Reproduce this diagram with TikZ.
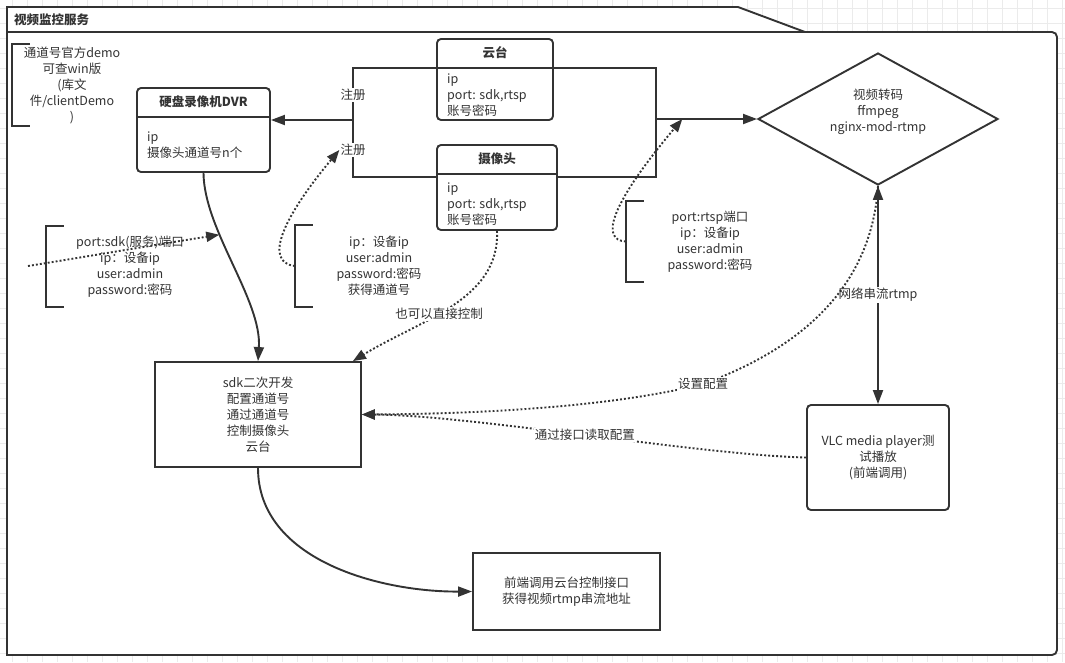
\documentclass[tikz,border=0pt]{standalone}
\usepackage{fontspec}
\setmainfont{Noto Sans CJK SC}
\usetikzlibrary{arrows.meta,shapes.geometric}
\definecolor{mmink}{HTML}{333333}
\definecolor{mmgrid}{HTML}{EBEBEB}
\newcommand{\dgfont}{\fontsize{12.5}{16}\selectfont}

\begin{document}
\begin{tikzpicture}[x=1pt,y=-1pt,
  ink/.style={draw=mmink,line width=1.9pt},
  card/.style={ink,rounded corners=4pt,fill=white,inner sep=0pt},
  flatbox/.style={ink,fill=white,align=center,font=\dgfont,text=mmink,inner sep=0pt},
  cardtitle/.style={font=\dgfont\bfseries,text=mmink,inner sep=0pt},
  cardbody/.style={align=left,font=\dgfont,text=mmink,inner sep=0pt,anchor=west},
  note/.style={align=center,font=\dgfont,text=mmink,inner sep=0pt},
  lab/.style={fill=white,font=\dgfont,text=mmink,inner sep=1pt},
  edge/.style={ink},
  arr/.style={ink,-{Triangle[length=14pt,width=10pt]}},
  dblarr/.style={ink,{Triangle[length=14pt,width=10pt]}-{Triangle[length=14pt,width=10pt]}},
  darr/.style={ink,dash pattern=on 1.9pt off 2.1pt,-{Triangle[length=13pt,width=10pt]}},
  gridline/.style={draw=mmgrid,line width=0.6pt}]
  \useasboundingbox (0,0) rectangle (1065,662);
  % canvas grid
  \foreach \gx in {12,27,...,1062} \draw[gridline] (\gx,0) -- (\gx,662);
  \foreach \gy in {8,23,...,660} \draw[gridline] (0,\gy) -- (1065,\gy);
  % container
  \draw[ink,fill=white] (7,655) -- (7,7) -- (738,7) -- (805,32)
    {[rounded corners=5pt] -- (1057,32) -- (1057,655)} -- cycle;
  \draw[edge] (7,32) -- (805,32);
  \node[cardtitle,anchor=west] (title) at (14,19.5) {视频监控服务};

  % notes with brackets
  \node[note,minimum width=120pt,minimum height=82pt] (demo) at (72,85)
    {通道号官方demo\\可查win版\\(库文\\件/clientDemo\\)};
  \node[note,minimum width=168pt,minimum height=81pt] (portnote) at (130,266.5)
    {port:sdk(服务)端口\\ip：设备ip\\user:admin\\password:密码};
  \node[note,minimum width=168pt,minimum height=82pt] (chnote) at (379,266)
    {ip：设备ip\\user:admin\\password:密码\\获得通道号};
  \node[note,minimum width=168pt,minimum height=81pt] (rtspnote) at (710,241.5)
    {port:rtsp端口\\ip：设备ip\\user:admin\\password:密码};
  \foreach \n in {demo,portnote,chnote,rtspnote}
    \draw[edge] ([xshift=18pt]\n.north west) -- (\n.north west) -- (\n.south west)
      -- ([xshift=18pt]\n.south west);

  % devices
  \node[card,minimum width=133pt,minimum height=84pt] (dvr) at (203.5,130) {};
  \draw[edge] ([yshift=-30pt]dvr.north west) -- ([yshift=-30pt]dvr.north east);
  \node[cardtitle] (dvr-title) at ([yshift=-15pt]dvr.north) {硬盘录像机DVR};
  \node[cardbody] (dvr-body) at (147,145) {ip\\摄像头通道号n个};

  \node[card,minimum width=116pt,minimum height=81pt] (yuntai) at (495,79.5) {};
  \draw[edge] ([yshift=-30pt]yuntai.north west) -- ([yshift=-30pt]yuntai.north east);
  \node[cardtitle] (yuntai-title) at ([yshift=-15pt]yuntai.north) {云台};
  \node[cardbody] (yuntai-body) at (447,95) {ip\\port: sdk,rtsp\\账号密码};

  \node[card,minimum width=120pt,minimum height=85pt] (camera) at (497,187.5) {};
  \draw[edge] ([yshift=-30pt]camera.north west) -- ([yshift=-30pt]camera.north east);
  \node[cardtitle] (camera-title) at ([yshift=-15pt]camera.north) {摄像头};
  \node[cardbody] (camera-body) at (447,204) {ip\\port: sdk,rtsp\\账号密码};

  \node[ink,diamond,aspect=1.818,minimum width=240pt,minimum height=132pt,inner sep=0pt,
    fill=white] (codec) at (878,119) {};
  \node[note] (codec-text) at (878,112) {视频转码\\ffmpeg\\nginx-mod-rtmp};

  \node[card,minimum width=142pt,minimum height=105pt,align=center,font=\dgfont,
    text=mmink] (vlc) at (878,457.5) {VLC media player测\\试播放\\(前端调用)};
  \node[flatbox,minimum width=206pt,minimum height=105pt] (sdk) at (258,414.5)
    {sdk二次开发\\配置通道号\\通过通道号\\控制摄像头\\云台};
  \node[flatbox,minimum width=187pt,minimum height=77pt] (front) at (566.5,591.5)
    {前端调用云台控制接口\\获得视频rtmp串流地址};

  % registration
  \coordinate (reg) at (353,120);
  \draw[edge] ([yshift=-30pt]yuntai.north west) -| (reg) |- ([yshift=-33pt]camera.north west);
  \draw[arr] (reg) -- (dvr.east |- reg);
  \node[lab] (reg-top) at (353,95) {注册};
  \node[lab] (reg-bot) at (353,150) {注册};

  % streams into the transcoder
  \coordinate (out) at (656,119);
  \draw[edge] ([yshift=-30pt]yuntai.north east) -| (out) |- ([yshift=-33pt]camera.north east);
  \draw[arr] (out) -- coordinate[pos=0.26] (rtsp-tap) (codec.west);

  % sdk flow
  \draw[arr] (dvr.south) .. controls (204,230) and (262,300) .. coordinate[pos=0.34] (dvr-tap) (sdk.north);
  \draw[arr] (sdk.south) .. controls (258,560) and (380,592) .. (front.west);
  \draw[dblarr] (codec.south) -- node[lab] (rtmp-lab) {网络串流rtmp} (vlc.north);

  % dotted hints
  \coordinate (portsrc) at (28,266);
  \draw[darr] (portsrc) .. controls (90,256) and (160,244) .. (dvr-tap);
  \draw[darr] (chnote.west) .. controls (262,262) and (285,215) .. (reg-bot.west);
  \draw[darr] (rtspnote.west) .. controls (600,240) and (610,205) .. (rtsp-tap);
  \draw[darr] (camera.south) .. controls (500,300) and (420,320)
    .. node[lab,pos=0.57] (direct-lab) {也可以直接控制} ([xshift=-9pt]sdk.north east);
  \draw[darr] (vlc.west) .. controls (700,455) and (470,415)
    .. node[lab,pos=0.5] (read-lab) {通过接口读取配置} (sdk.east);
  \coordinate (set-pt) at (703,384);
  \draw[darr] (codec.south) .. controls (872,280) and (810,345) .. (set-pt)
    .. controls (600,410) and (450,414) .. (sdk.east);
  \node[lab] (set-lab) at (set-pt) {设置配置};
\end{tikzpicture}
\end{document}
